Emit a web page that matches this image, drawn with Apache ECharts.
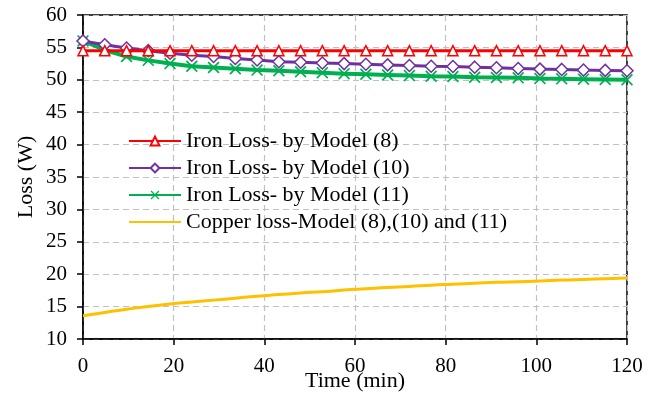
<!DOCTYPE html>
<html><head><meta charset="utf-8">
<script src="https://cdn.jsdelivr.net/npm/echarts@6/dist/echarts.min.js"></script>
<style>html,body{margin:0;padding:0;background:#fff}#c{width:662px;height:394px}</style>
</head><body><div id="c"></div>
<script>
var times = [0,4.8,9.6,14.4,19.2,24,28.8,33.6,38.4,43.2,48,52.8,57.6,62.4,67.2,72,76.8,81.6,86.4,91.2,96,100.8,105.6,110.4,115.2,120];
var ironModel8 = [54.5,54.5,54.5,54.5,54.5,54.5,54.5,54.5,54.5,54.5,54.5,54.5,54.5,54.5,54.5,54.5,54.5,54.5,54.5,54.5,54.5,54.5,54.5,54.5,54.5,54.5];
var ironModel10 = [56.0,55.4,54.9,54.5,54.1,53.8,53.6,53.3,53.05,52.8,52.7,52.6,52.5,52.4,52.3,52.2,52.1,52.05,51.95,51.85,51.75,51.65,51.6,51.5,51.45,51.4];
var ironModel11 = [56.0,54.6,53.6,53.0,52.5,52.1,51.9,51.7,51.5,51.4,51.25,51.1,50.95,50.85,50.75,50.65,50.55,50.5,50.4,50.35,50.3,50.2,50.15,50.1,50.05,50.0];
var copperLoss = [13.6,14.1,14.6,15.0,15.4,15.7,16.0,16.3,16.6,16.85,17.1,17.3,17.55,17.75,17.95,18.1,18.3,18.45,18.6,18.75,18.85,18.95,19.1,19.2,19.3,19.4];
var seriesNames = ['Iron Loss- by Model (8)','Iron Loss- by Model (10)','Iron Loss- by Model (11)','Copper loss-Model (8),(10) and (11)'];
var xTicks = [0,20,40,60,80,100,120];

function pairs(v){ return times.map(function(t,i){ return [t, v[i]]; }); }
var F = 'Liberation Serif, Times New Roman, serif';
var xSym = 'path://M0,1L1,0L5,4L9,0L10,1L6,5L10,9L9,10L5,6L1,10L0,9L4,5Z';

var chart = echarts.init(document.getElementById('c'), null, {renderer:'canvas'});
chart.setOption({
  animation:false,
  backgroundColor:'#fff',
  grid:{left:83,right:35,top:15,bottom:55,show:true,borderColor:'#000',borderWidth:1.5,backgroundColor:'transparent',
    containLabel:false,outerBoundsMode:'none'},
  legend:{
    orient:'vertical', left:128, top:130, padding:0, itemWidth:52, itemHeight:11, itemGap:5,
    textStyle:{fontFamily:F,fontSize:22,color:'#000'},
    data:[seriesNames[0],seriesNames[1],seriesNames[2],{name:seriesNames[3],itemStyle:{opacity:0}}]
  },
  xAxis:{type:'value',min:0,max:120,interval:20,
    name:'Time (min)',nameLocation:'middle',nameGap:31,nameMoveOverlap:false,
    nameTextStyle:{fontFamily:F,fontSize:22,color:'#000'},
    axisLine:{show:true,lineStyle:{color:'#000',width:1.5}},
    axisTick:{show:true,length:6,lineStyle:{color:'#000',width:1.5}},
    axisLabel:{fontFamily:F,fontSize:21,color:'#000',margin:17},
    splitLine:{show:true,lineStyle:{color:'#C0C0C0',type:[6,4],width:1.2}}
  },
  yAxis:{type:'value',min:10,max:60,interval:5,
    name:'Loss (W)',nameLocation:'middle',nameGap:46,nameRotate:90,nameMoveOverlap:false,
    nameTextStyle:{fontFamily:F,fontSize:22,color:'#000'},
    axisLine:{show:true,lineStyle:{color:'#000',width:1.5}},
    axisTick:{show:true,length:6,lineStyle:{color:'#000',width:1.5}},
    axisLabel:{fontFamily:F,fontSize:21,color:'#000',margin:16},
    splitLine:{show:true,lineStyle:{color:'#C0C0C0',type:[6,4],width:1.2}}
  },
  series:[
    {name:seriesNames[0],type:'line',data:pairs(ironModel8),symbol:'triangle',symbolSize:[10,10],
      lineStyle:{color:'#FF0000',width:3},itemStyle:{color:'#fff',borderColor:'#FF0000',borderWidth:1.5},z:4},
    {name:seriesNames[1],type:'line',data:pairs(ironModel10),symbol:'diamond',symbolSize:[12,12],
      lineStyle:{color:'#7030A0',width:3},itemStyle:{color:'#fff',borderColor:'#7030A0',borderWidth:1.5},z:3},
    {name:seriesNames[2],type:'line',data:pairs(ironModel11),symbol:xSym,symbolSize:[12,12],
      lineStyle:{color:'#00B050',width:4},itemStyle:{color:'#00B050',borderWidth:0},z:2},
    {name:seriesNames[3],type:'line',data:pairs(copperLoss),symbol:'none',smooth:true,
      lineStyle:{color:'#FFC000',width:3},itemStyle:{color:'#FFC000'},z:1}
  ]
});
</script></body></html>
